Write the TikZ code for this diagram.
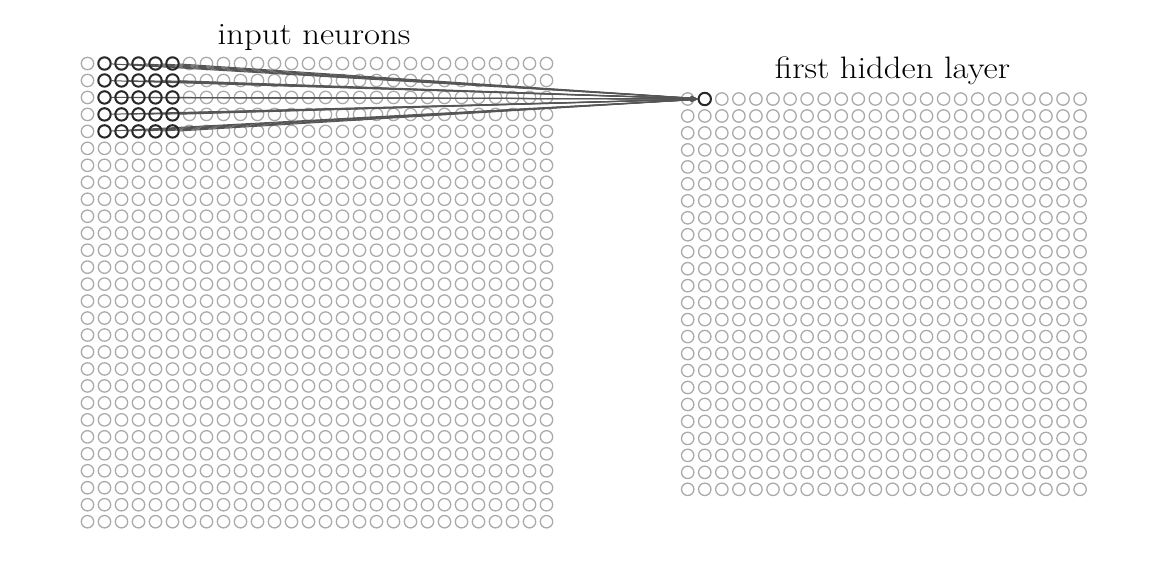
\documentclass[tikz,border=0pt]{standalone}
\usetikzlibrary{arrows.meta}
\definecolor{neurongray}{RGB}{170,170,170}
\definecolor{hotcol}{RGB}{40,40,40}
\definecolor{linkcol}{RGB}{85,85,85}
\begin{document}
\begin{tikzpicture}[x=1pt,y=-1pt,
  neuron/.style={circle,draw=neurongray,line width=1.3pt,minimum size=12.4pt,inner sep=0pt},
  hot/.style={circle,draw=hotcol,line width=2pt,minimum size=12.4pt,inner sep=0pt},
  link/.style={draw=linkcol,line width=1pt,-{Latex[length=7pt,width=5pt]}},
  headtext/.style={anchor=base,inner sep=0pt,font=\fontsize{31}{37}\selectfont}]
\useasboundingbox (0,0) rectangle (1170,576);
% input layer 28x28
\foreach \r in {0,...,27}{
  \foreach \c in {0,...,27}{
    \node[neuron] (in-\r-\c) at ({87.5+17*\c},{63.5+16.97*\r}) {};
  }
}
% hidden layer 24x24
\foreach \r in {0,...,23}{
  \foreach \c in {0,...,23}{
    \node[neuron] (h-\r-\c) at ({687.7+17.06*\c},{99+16.97*\r}) {};
  }
}
% connections from local receptive field
\foreach \r in {0,...,4}{
  \foreach \c in {1,...,5}{
    \draw[link] (in-\r-\c) -- (h-0-1);
  }
}
% highlighted neurons
\foreach \r in {0,...,4}{
  \foreach \c in {1,...,5}{
    \node[hot] (hin-\r-\c) at (in-\r-\c) {};
  }
}
\node[hot] (hid) at (h-0-1) {};
% titles
\node[headtext] (tin) at (314,44.3) {\scalebox{1.12}[1]{input neurons}};
\node[headtext] (thid) at (892.5,78) {\scalebox{1.12}[1]{first hidden layer}};
\end{tikzpicture}
\end{document}
